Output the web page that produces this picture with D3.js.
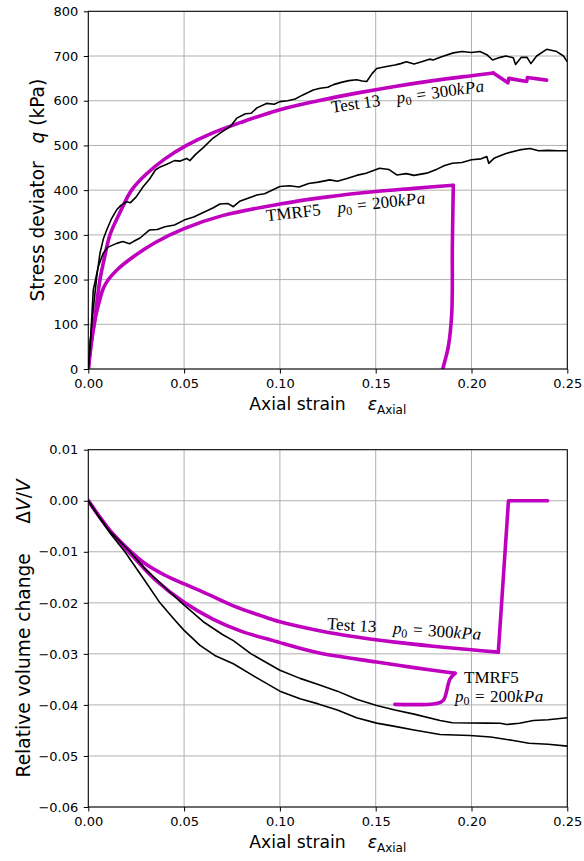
<!DOCTYPE html>
<html><head><meta charset="utf-8">
<script src="https://cdn.jsdelivr.net/npm/d3@7/dist/d3.min.js"></script>
<style>body{margin:0;background:#fff}svg{display:block}</style>
</head><body>
<svg id="chart" width="584" height="861"></svg>
<script>
// ---------- data ----------
const strainTicks = [0, 0.05, 0.10, 0.15, 0.20, 0.25];
const qTicks = [0, 100, 200, 300, 400, 500, 600, 700, 800];
const dvTicks = [-0.06, -0.05, -0.04, -0.03, -0.02, -0.01, 0, 0.01];

// Top panel: stress deviator q (kPa) vs axial strain
const qTest13Model = [[0,0],[0.001,38],[0.002,70],[0.0031,100],[0.0045,150],[0.0061,200],[0.0085,250],[0.0113,300],[0.0165,350],[0.0226,400],[0.03,435],[0.04,470],[0.0513,500],[0.065,528],[0.08,552],[0.1,580],[0.12,600],[0.14,617],[0.16,632],[0.18,645],[0.2,656],[0.2114,662],[0.219,640],[0.2195,650],[0.2288,643],[0.2292,652],[0.2392,646]];
const qTMRF5Model = [[0,0],[0.001,40],[0.002,75],[0.003,100],[0.0045,130],[0.006,155],[0.0078,180],[0.0105,200],[0.0148,221],[0.0235,251],[0.035,283],[0.05,314],[0.07,343],[0.1,369],[0.125,385],[0.15,397],[0.17,404],[0.1905,411],[0.1903,360],[0.19,273],[0.1897,125],[0.1879,50],[0.185,0],[0.1845,-10]];
const qTest13Exp = [[0,0],[0.001,60],[0.002,110],[0.003,150],[0.0044,206],[0.0061,259],[0.0078,290],[0.0096,311],[0.012,335],[0.0148,356],[0.017,366],[0.02,374],[0.022,372],[0.025,385],[0.0287,408],[0.032,425],[0.035,445],[0.0375,452],[0.041,458],[0.045,466],[0.048,465],[0.0513,471],[0.053,466],[0.056,480],[0.06,495],[0.065,516],[0.069,528],[0.074,542],[0.0775,561],[0.082,571],[0.085,572],[0.088,584],[0.093,594],[0.097,592],[0.1,598],[0.104,600],[0.108,604],[0.112,613],[0.1174,624],[0.121,628],[0.125,630],[0.128,636],[0.132,641],[0.136,645],[0.14,647],[0.143,644],[0.1453,643],[0.148,660],[0.1505,672],[0.155,676],[0.16,680],[0.163,683],[0.166,687],[0.17,682],[0.174,687],[0.178,693],[0.18,691],[0.184,698],[0.1905,707],[0.195,710],[0.2,708],[0.2044,710],[0.208,703],[0.211,691],[0.215,697],[0.218,700],[0.2218,696],[0.223,681],[0.226,697],[0.229,697],[0.231,683],[0.234,700],[0.2392,715],[0.2445,710],[0.248,700],[0.25,687]];
const qTMRF5Exp = [[0,0],[0.001,50],[0.0026,177],[0.0052,229],[0.0078,259],[0.010,272],[0.0148,281],[0.018,285],[0.0215,280],[0.0235,285],[0.027,293],[0.032,311],[0.036,312],[0.04,318],[0.045,322],[0.05,333],[0.055,340],[0.06,350],[0.065,360],[0.0687,369],[0.073,370],[0.0757,363],[0.079,375],[0.0879,389],[0.092,392],[0.1,408],[0.105,410],[0.11,407],[0.115,415],[0.12,418],[0.126,423],[0.13,420],[0.135,426],[0.14,433],[0.145,438],[0.152,449],[0.157,446],[0.161,434],[0.166,437],[0.17,433],[0.1766,438],[0.182,447],[0.186,455],[0.19,460],[0.195,462],[0.2,468],[0.205,470],[0.208,475],[0.209,460],[0.212,472],[0.218,482],[0.225,490],[0.2305,493],[0.235,488],[0.24,489],[0.245,488],[0.25,488]];

// Bottom panel: relative volume change dV/V vs axial strain
const dvTest13Model = [[0,0],[0.005,-0.0027],[0.0113,-0.0058],[0.0235,-0.0104],[0.03,-0.0124],[0.04,-0.0146],[0.05,-0.0163],[0.06,-0.0179],[0.0757,-0.0206],[0.09,-0.0225],[0.1,-0.0237],[0.12,-0.0254],[0.14,-0.0267],[0.16,-0.0277],[0.18,-0.0285],[0.2,-0.0292],[0.214,-0.02966],[0.2193,0],[0.2397,0]];
const dvTMRF5Model = [[0,0],[0.005,-0.0027],[0.0113,-0.0059],[0.0235,-0.0110],[0.035,-0.0155],[0.05,-0.0199],[0.065,-0.0232],[0.08,-0.0256],[0.0966,-0.0274],[0.1,-0.0278],[0.12,-0.0298],[0.1505,-0.0316],[0.17,-0.0327],[0.1914,-0.0338],[0.1888,-0.0349],[0.1853,-0.0391],[0.1818,-0.0397],[0.16,-0.0399]];
const dvExpA = [[0,0],[0.005,-0.0028],[0.0113,-0.0060],[0.0218,-0.0100],[0.03,-0.0135],[0.04,-0.0170],[0.0487,-0.0200],[0.06,-0.0237],[0.07,-0.0262],[0.0757,-0.0274],[0.085,-0.0300],[0.1,-0.0332],[0.1105,-0.0348],[0.12,-0.0360],[0.13,-0.0373],[0.14,-0.0389],[0.1505,-0.0401],[0.16,-0.0410],[0.17,-0.0418],[0.1836,-0.04305],[0.19,-0.0435],[0.208,-0.04357],[0.215,-0.0436],[0.2184,-0.04383],[0.225,-0.0436],[0.2323,-0.04305],[0.24,-0.0429],[0.25,-0.04252]];
const dvExpB = [[0,0],[0.005,-0.0029],[0.0113,-0.0063],[0.0191,-0.0100],[0.0283,-0.0150],[0.0374,-0.0200],[0.045,-0.0233],[0.05,-0.0254],[0.0583,-0.02835],[0.066,-0.0303],[0.0757,-0.03194],[0.088,-0.0347],[0.1,-0.0373],[0.1105,-0.0388],[0.12,-0.0398],[0.13,-0.0410],[0.14,-0.0425],[0.1505,-0.04357],[0.16,-0.0442],[0.17,-0.0449],[0.1836,-0.04579],[0.1992,-0.04598],[0.21,-0.0463],[0.2218,-0.04696],[0.23,-0.0475],[0.24,-0.0477],[0.25,-0.04808]];

// ---------- drawing ----------
const svg = d3.select('#chart');
const L = 88.3, R = 567.3;
const x = d3.scaleLinear().domain([0, 0.25]).range([L, R]);
const yTop = d3.scaleLinear().domain([0, 800]).range([369, 11.3]);
const yBot = d3.scaleLinear().domain([-0.06, 0.01]).range([807, 449.7]);
const MAG = '#bf00bf';
const SANS = 'DejaVu Sans';
const SERIF = 'Liberation Serif';

// model: {data, parts:[[i0,i1,smooth],...]}
function panel(id, y, yTicks, yFmt, models, expSeries) {
  const [yb, yt] = y.range();
  const g = svg.append('g');
  g.append('clipPath').attr('id', id).append('rect')
    .attr('x', L).attr('y', yt).attr('width', R - L).attr('height', yb - yt);
  g.append('g').selectAll('line').data(strainTicks).join('line')
    .attr('x1', d => x(d)).attr('x2', d => x(d)).attr('y1', yt).attr('y2', yb)
    .attr('stroke', '#b0b0b0').attr('stroke-width', 1);
  g.append('g').selectAll('line').data(yTicks).join('line')
    .attr('y1', d => y(d)).attr('y2', d => y(d)).attr('x1', L).attr('x2', R)
    .attr('stroke', '#b0b0b0').attr('stroke-width', 1);
  const lineLin = d3.line().x(d => x(d[0])).y(d => y(d[1]));
  const lineSm = d3.line().x(d => x(d[0])).y(d => y(d[1])).curve(d3.curveCatmullRom.alpha(0.5));
  const lg = g.append('g').attr('clip-path', `url(#${id})`);
  models.forEach(m => m.parts.forEach(([a, b, sm]) => {
    lg.append('path').attr('d', (sm ? lineSm : lineLin)(m.data.slice(a, b + 1))).attr('fill', 'none')
      .attr('stroke', MAG).attr('stroke-width', 3.6).attr('stroke-linejoin', 'round').attr('stroke-linecap', 'round');
  }));
  expSeries.forEach(s => lg.append('path').attr('d', lineLin(s)).attr('fill', 'none')
    .attr('stroke', '#000').attr('stroke-width', 1.6).attr('stroke-linejoin', 'round'));
  const ax = g.append('g').attr('transform', `translate(0,${yb})`)
    .call(d3.axisBottom(x).tickValues(strainTicks).tickFormat(d3.format('.2f')).tickSize(4.5).tickPadding(5.5));
  const ay = g.append('g').attr('transform', `translate(${L},0)`)
    .call(d3.axisLeft(y).tickValues(yTicks).tickFormat(yFmt).tickSize(4.5).tickPadding(5.5));
  [ax, ay].forEach(a => {
    a.select('.domain').remove();
    a.selectAll('text').attr('font-family', SANS).attr('font-size', 13).attr('fill', '#000');
    a.selectAll('line').attr('stroke', '#000').attr('stroke-width', 1);
  });
  g.append('rect').attr('x', L).attr('y', yt).attr('width', R - L).attr('height', yb - yt)
    .attr('fill', 'none').attr('stroke', '#000').attr('stroke-width', 1);
  const xl = g.append('text').attr('y', yb + 41).attr('font-family', SANS).attr('font-size', 17.2).attr('fill', '#000');
  xl.append('tspan').text('Axial strain\u00A0\u00A0\u00A0\u00A0');
  xl.append('tspan').attr('font-style', 'italic').text('ε');
  xl.append('tspan').attr('font-size', 12).attr('dy', 3.6).text('Axial');
  const w = xl.node().getBBox().width;
  xl.attr('x', (L + R) / 2 - w / 2);
}

panel('clipTop', yTop, qTicks, d3.format('d'),
  [{data: qTest13Model, parts: [[0, 21, true], [21, qTest13Model.length - 1, false]]},
   {data: qTMRF5Model, parts: [[0, 17, true], [17, qTMRF5Model.length - 1, true]]}],
  [qTest13Exp, qTMRF5Exp]);
panel('clipBot', yBot, dvTicks, d3.format('.2f'),
  [{data: dvTest13Model, parts: [[0, 16, true], [16, dvTest13Model.length - 1, false]]},
   {data: dvTMRF5Model, parts: [[0, 13, true], [13, dvTMRF5Model.length - 1, true]]}],
  [dvExpA, dvExpB]);

// y labels
function yLabel(xpos, cy, parts) {
  const t = svg.append('text').attr('font-family', SANS).attr('font-size', 18.6).attr('fill', '#000')
    .attr('text-anchor', 'middle').attr('transform', `translate(${xpos},${cy}) rotate(-90)`);
  parts.forEach(p => t.append('tspan').attr('font-style', p.i ? 'italic' : 'normal').text(p.t));
}
yLabel(44, (yTop(0) + yTop(800)) / 2, [{t: 'Stress deviator\u00A0\u00A0\u00A0'}, {t: 'q', i: true}, {t: '\u00A0(kPa)'}]);
yLabel(29.5, (yBot(-0.06) + yBot(0.01)) / 2, [{t: 'Relative volume change\u00A0\u00A0\u00A0\u00A0\u00A0'}, {t: 'Δ'}, {t: 'V', i: true}, {t: '/'}, {t: 'V', i: true}]);

// annotations (LaTeX-like serif)
function mathLabel(tx, ty, ang, name, pStart, pressure) {
  const t = svg.append('text').attr('font-family', SERIF).attr('font-size', 17).attr('fill', '#000')
    .attr('transform', `translate(${tx},${ty}) rotate(${ang})`);
  if (name) t.append('tspan').attr('x', 0).text(name);
  t.append('tspan').attr('x', pStart).attr('font-style', 'italic').text('p');
  t.append('tspan').attr('font-size', 12).attr('dy', 3).text('0');
  t.append('tspan').attr('dy', -3).attr('dx', 5.5).text('=');
  t.append('tspan').attr('dx', 5.5).text(pressure);
  t.append('tspan').attr('font-style', 'italic').attr('letter-spacing', 0.6).text('kPa');
}
mathLabel(332, 112.7, -8, 'Test 13', 66, '300');
mathLabel(266.7, 221.3, -6.5, 'TMRF5', 71.7, '200');
mathLabel(326.7, 629, 4, 'Test 13', 66.2, '300');
svg.append('text').attr('font-family', SERIF).attr('font-size', 17).attr('x', 464).attr('y', 682.5).text('TMRF5');
mathLabel(455, 701.5, 0, null, 0, '200');
</script>
</body></html>
